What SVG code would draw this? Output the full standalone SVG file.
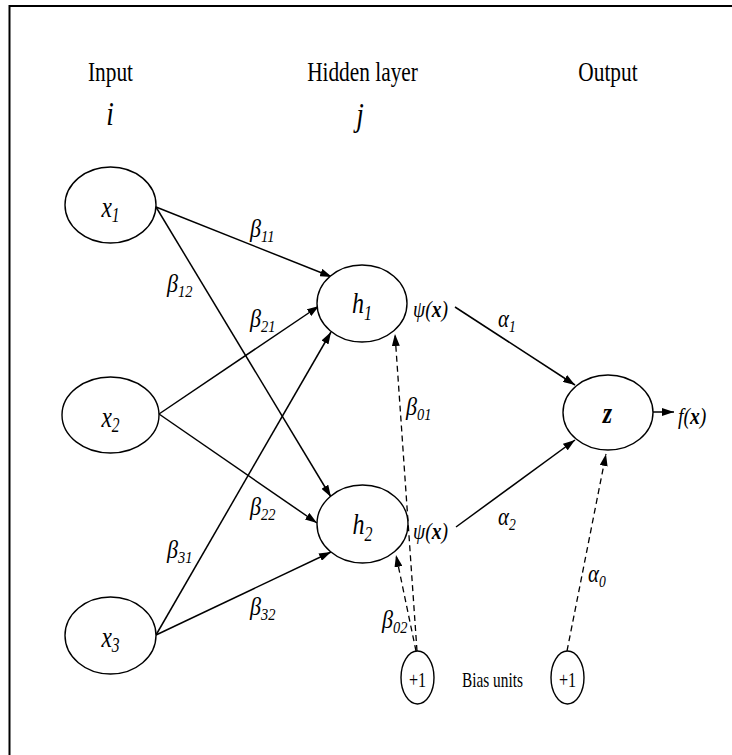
<svg xmlns="http://www.w3.org/2000/svg" width="732" height="755" viewBox="0 0 732 755" font-family="'Liberation Serif', 'DejaVu Serif', serif">
<style>
  text { font-family: "Liberation Serif", "DejaVu Serif", serif; fill: #000; }
  .hdr { font-size: 27px; }
  .idx { font-size: 34px; font-style: italic; }
  .node { fill: #fff; stroke: #000; stroke-width: 1.4; }
  .lbl { font-size: 30px; font-style: italic; }
  .sub { font-size: 20px; }
  .gk { font-size: 26px; font-style: italic; }
  .gsub { font-size: 17px; font-style: italic; }
  .fn { font-size: 23px; font-style: italic; }
  .bx { font-weight: bold; }
  .bias { font-size: 21px; }
  .edge { stroke: #000; stroke-width: 1.5; fill: none; marker-end: url(#arr); }
  .dash { stroke: #000; stroke-width: 1.3; fill: none; stroke-dasharray: 6 4; marker-end: url(#arr); }
</style>
<defs>
  <marker id="arr" markerUnits="userSpaceOnUse" viewBox="0 0 12 8" markerWidth="12" markerHeight="8" refX="12" refY="4" orient="auto">
    <path d="M0,0 L12,4 L0,8 z" fill="#000"/>
  </marker>
</defs>
<rect x="0" y="0" width="732" height="755" fill="#fff"/>
<rect x="9.5" y="6" width="740" height="760" fill="none" stroke="#000" stroke-width="2"/>

<g id="headers">
  <g transform="translate(110.5,81) scale(0.79,1)"><text class="hdr" text-anchor="middle">Input</text></g>
  <g transform="translate(362.5,81) scale(0.79,1)"><text class="hdr" text-anchor="middle">Hidden layer</text></g>
  <g transform="translate(608,81) scale(0.79,1)"><text class="hdr" text-anchor="middle">Output</text></g>
  <g transform="translate(110,125) scale(0.8,1)"><text class="idx" text-anchor="middle">i</text></g>
  <g transform="translate(360,126) scale(0.8,1)"><text class="idx" text-anchor="middle">j</text></g>
</g>

<g id="connectors">
  <line class="edge" x1="156" y1="207" x2="332" y2="277"/>
  <line class="edge" x1="156" y1="207" x2="331" y2="497"/>
  <line class="edge" x1="159" y1="414" x2="319" y2="306"/>
  <line class="edge" x1="159" y1="414" x2="317" y2="523"/>
  <line class="edge" x1="156" y1="635" x2="331" y2="332"/>
  <line class="edge" x1="156" y1="635" x2="331" y2="552"/>
  <line class="edge" x1="455" y1="307" x2="575" y2="385"/>
  <line class="edge" x1="456" y1="527" x2="575" y2="440"/>
  <line class="edge" x1="653" y1="412" x2="674" y2="412"/>
  <line class="dash" x1="417" y1="651" x2="395" y2="334"/>
  <line class="dash" x1="416" y1="651" x2="396" y2="555"/>
  <line class="dash" x1="567" y1="651" x2="606" y2="454"/>
</g>

<g id="edge-labels">
  <g transform="translate(250,237) scale(0.85,1)"><text class="gk">β<tspan class="gsub" dy="5">11</tspan></text></g>
  <g transform="translate(167,292) scale(0.85,1)"><text class="gk">β<tspan class="gsub" dy="5">12</tspan></text></g>
  <g transform="translate(250,327) scale(0.85,1)"><text class="gk">β<tspan class="gsub" dy="5">21</tspan></text></g>
  <g transform="translate(250,515) scale(0.85,1)"><text class="gk">β<tspan class="gsub" dy="5">22</tspan></text></g>
  <g transform="translate(167,558) scale(0.85,1)"><text class="gk">β<tspan class="gsub" dy="5">31</tspan></text></g>
  <g transform="translate(250,615) scale(0.85,1)"><text class="gk">β<tspan class="gsub" dy="5">32</tspan></text></g>
  <g transform="translate(406,415) scale(0.85,1)"><text class="gk">β<tspan class="gsub" dy="5">01</tspan></text></g>
  <g transform="translate(382,628) scale(0.85,1)"><text class="gk">β<tspan class="gsub" dy="5">02</tspan></text></g>
  <g transform="translate(498,327) scale(0.8,1)"><text class="gk">α<tspan class="gsub" dy="5">1</tspan></text></g>
  <g transform="translate(498,525) scale(0.8,1)"><text class="gk">α<tspan class="gsub" dy="5">2</tspan></text></g>
  <g transform="translate(588,582) scale(0.8,1)"><text class="gk">α<tspan class="gsub" dy="5">0</tspan></text></g>
  <g transform="translate(413,317) scale(0.85,1)"><text class="fn">ψ(<tspan class="bx">x</tspan>)</text></g>
  <g transform="translate(413,539) scale(0.85,1)"><text class="fn">ψ(<tspan class="bx">x</tspan>)</text></g>
</g>

<g id="x1">
  <ellipse class="node" cx="110.5" cy="205" rx="45.5" ry="38"/>
  <g transform="translate(110.5,217) scale(0.78,1)"><text class="lbl" text-anchor="middle">x<tspan class="sub" dy="5">1</tspan></text></g>
</g>
<g id="x2">
  <ellipse class="node" cx="110.5" cy="415" rx="48.5" ry="38"/>
  <g transform="translate(110.5,427) scale(0.78,1)"><text class="lbl" text-anchor="middle">x<tspan class="sub" dy="5">2</tspan></text></g>
</g>
<g id="x3">
  <ellipse class="node" cx="110.5" cy="635.5" rx="45.5" ry="38.5"/>
  <g transform="translate(110.5,647) scale(0.78,1)"><text class="lbl" text-anchor="middle">x<tspan class="sub" dy="5">3</tspan></text></g>
</g>
<g id="h1">
  <ellipse class="node" cx="362" cy="303.5" rx="45" ry="38.5"/>
  <g transform="translate(362,313) scale(0.8,1)"><text class="lbl" text-anchor="middle">h<tspan class="sub" dy="7">1</tspan></text></g>
</g>
<g id="h2">
  <ellipse class="node" cx="362.5" cy="524" rx="45.5" ry="39"/>
  <g transform="translate(362.5,534) scale(0.8,1)"><text class="lbl" text-anchor="middle">h<tspan class="sub" dy="7">2</tspan></text></g>
</g>
<g id="z">
  <ellipse class="node" cx="608" cy="412.5" rx="45" ry="37.5"/>
  <g transform="translate(607.5,423) scale(0.8,1)"><text class="lbl bx" text-anchor="middle">z</text></g>
</g>
<g id="fx">
  <g transform="translate(678,424) scale(0.85,1)"><text class="fn">f(<tspan class="bx">x</tspan>)</text></g>
</g>
<g id="bias1">
  <ellipse class="node" cx="417.5" cy="677.5" rx="16.5" ry="26.5"/>
  <g transform="translate(417.5,687) scale(0.77,1)"><text class="bias" text-anchor="middle">+1</text></g>
</g>
<g id="bias-label">
  <g transform="translate(462,687) scale(0.73,1)"><text class="bias">Bias units</text></g>
</g>
<g id="bias2">
  <ellipse class="node" cx="567.5" cy="677.5" rx="16.5" ry="26.5"/>
  <g transform="translate(567.5,687) scale(0.77,1)"><text class="bias" text-anchor="middle">+1</text></g>
</g>
</svg>
